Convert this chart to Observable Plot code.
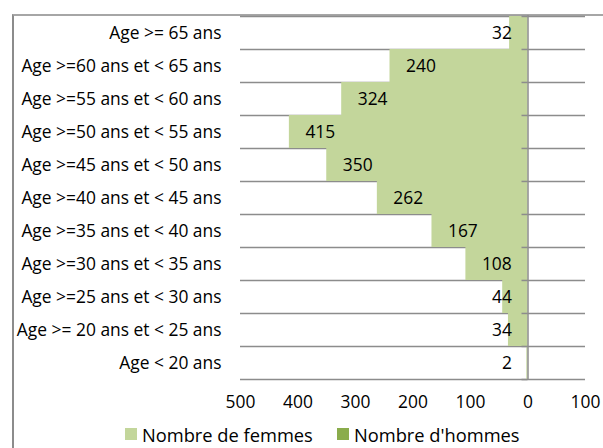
<!DOCTYPE html>
<html>
<head>
<meta charset="utf-8">
<script src="https://cdn.jsdelivr.net/npm/d3@7"></script>
<script src="https://cdn.jsdelivr.net/npm/@observablehq/plot@0.6"></script>
<style>
  html, body { margin: 0; padding: 0; background: #fff; }
  #wrap { position: relative; width: 603px; height: 448px; overflow: hidden; }
  #frame { position: absolute; left: 12px; top: 14px; width: 800px; height: 600px;
           border-left: 2px solid #8c8c8c; border-top: 2px solid #a6a6a6; box-sizing: border-box; }
  #chart { position: absolute; left: 0; top: 0; }
  #legend { position: absolute; left: 0; top: 421px; width: 603px; height: 26px;
            font-family: "Open Sans", sans-serif; font-size: 18.3px; color: #000; }
  .item { position: absolute; top: 0; display: flex; align-items: center; height: 26px; }
  .sw { width: 12px; height: 12px; margin-right: 5px; }
</style>
</head>
<body>
<div id="wrap">
  <div id="frame"></div>
  <div id="chart"></div>
  <div id="legend"></div>
</div>
<script>
const categories = [
  "Age >= 65 ans",
  "Age >=60 ans et < 65 ans",
  "Age >=55 ans et < 60 ans",
  "Age >=50 ans et < 55 ans",
  "Age >=45 ans et < 50 ans",
  "Age >=40 ans et < 45 ans",
  "Age >=35 ans et < 40 ans",
  "Age >=30 ans et < 35 ans",
  "Age >=25 ans et < 30 ans",
  "Age >= 20 ans et < 25 ans",
  "Age < 20 ans"
];
const femmes = [32, 240, 324, 415, 350, 262, 167, 108, 44, 34, 2];
const hommes = [0, 0, 0, 0, 0, 0, 0, 0, 0, 0, 0];
const xTicks = [-500, -400, -300, -200, -100, 0, 100];
const seriesNames = ["Nombre de femmes", "Nombre d'hommes"];
const seriesColors = ["#c3d69b", "#8aac4c"];

const W = 603, H = 418, mTop = 15, mBottom = 39, mLeft = 240, mRight = 18;
const step = (H - mTop - mBottom) / categories.length;

const rowsF = categories.map((c, i) => ({cat: c, v: femmes[i]}));
const rowsH = categories.map((c, i) => ({cat: c, v: hommes[i]}));

const plot = Plot.plot({
  width: W, height: H,
  marginTop: mTop, marginBottom: mBottom, marginLeft: mLeft, marginRight: mRight,
  style: {fontFamily: "'Open Sans', sans-serif", fontSize: "17.4px", color: "#000", background: "transparent"},
  x: {domain: [-500, 100], ticks: xTicks, tickFormat: d => Math.abs(d), tickSize: 0, tickPadding: 16, label: null},
  y: {domain: categories, padding: 0, tickSize: 0, tickPadding: 19, label: null},
  marks: [
    Plot.ruleY(categories, {y: d => d, x1: -500, x2: 100, dy: -step / 2, stroke: "#8c8c8c", strokeWidth: 1.5, strokeOpacity: 1}),
    Plot.ruleY([categories[categories.length - 1]], {x1: -500, x2: 100, dy: step / 2, stroke: "#8c8c8c", strokeWidth: 1.5, strokeOpacity: 1}),
    Plot.rectX(rowsF, {y: "cat", x1: d => -d.v, x2: 0, fill: seriesColors[0]}),
    Plot.rectX(rowsH, {y: "cat", x1: 0, x2: d => d.v, fill: seriesColors[1]}),
    Plot.ruleX([0], {stroke: "#8c8c8c", strokeWidth: 1.5}),
    Plot.ruleY(categories, {y: d => d, x1: 0, x2: 0, insetLeft: -6, dy: -step / 2, stroke: "#8c8c8c", strokeWidth: 1.5}),
    Plot.ruleY([categories[categories.length - 1]], {x1: 0, x2: 0, insetLeft: -6, dy: step / 2, stroke: "#8c8c8c", strokeWidth: 1.5}),
    Plot.text(rowsF.filter(d => d.v >= 100), {y: "cat", x: d => -d.v, text: d => String(d.v), textAnchor: "start", dx: 16, fill: "#000", fontSize: 17.4}),
    Plot.text(rowsF.filter(d => d.v < 100), {y: "cat", x: 0, text: d => String(d.v), textAnchor: "end", dx: -16, fill: "#000", fontSize: 17.4})
  ]
});
document.getElementById("chart").appendChild(plot);

const legend = document.getElementById("legend");
const lx = [125, 337];
seriesNames.forEach((n, i) => {
  const it = document.createElement("div");
  it.className = "item";
  it.style.left = lx[i] + "px";
  const sw = document.createElement("div");
  sw.className = "sw";
  sw.style.background = seriesColors[i];
  const t = document.createElement("span");
  t.textContent = n;
  it.appendChild(sw); it.appendChild(t);
  legend.appendChild(it);
});
</script>
</body>
</html>
